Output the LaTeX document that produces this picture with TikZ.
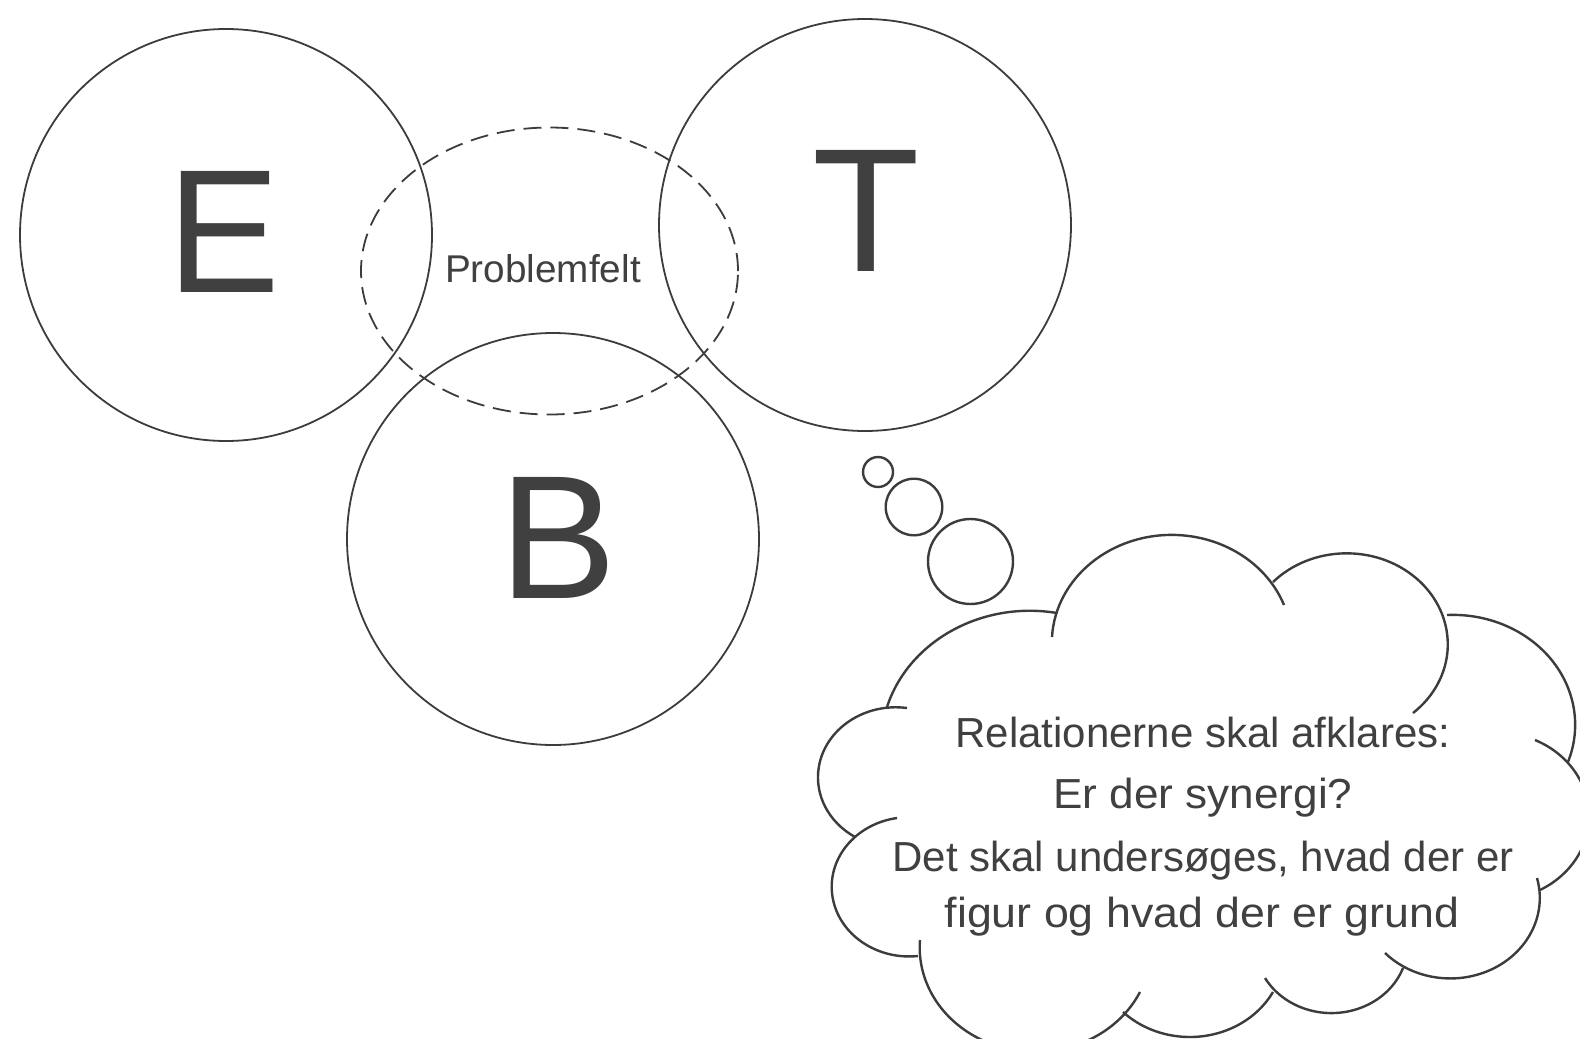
\documentclass[tikz,border=0pt]{standalone}
\usepackage{fontspec}
\setmainfont{Liberation Sans}
\usetikzlibrary{shapes.geometric}
\definecolor{ink}{HTML}{404040}
\definecolor{linec}{HTML}{3C3C3C}
% arc of an ellipse (ry = 0.9 rx) through three points given in pixels (y down)
\newcommand\cloudlobe[6]{%
  \pgfmathsetmacro\cbx{(#3-#1)/100}%
  \pgfmathsetmacro\cby{-(#4-#2)/90}%
  \pgfmathsetmacro\ccx{(#5-#1)/100}%
  \pgfmathsetmacro\ccy{-(#6-#2)/90}%
  \pgfmathsetmacro\cbb{\cbx*\cbx+\cby*\cby}%
  \pgfmathsetmacro\cccc{\ccx*\ccx+\ccy*\ccy}%
  \pgfmathsetmacro\cdd{2*(\cbx*\ccy-\cby*\ccx)}%
  \pgfmathsetmacro\cux{(\ccy*\cbb-\cby*\cccc)/\cdd}%
  \pgfmathsetmacro\cuy{(\cbx*\cccc-\ccx*\cbb)/\cdd}%
  \pgfmathsetmacro\crr{sqrt(\cux*\cux+\cuy*\cuy)}%
  \pgfmathsetmacro\cst{atan2(-\cuy,-\cux)}%
  \pgfmathsetmacro\cmid{atan2(\cby-\cuy,\cbx-\cux)}%
  \pgfmathsetmacro\cen{atan2(\ccy-\cuy,\ccx-\cux)}%
  \pgfmathsetmacro\cdo{mod(\cmid-\cst+720,360)}%
  \pgfmathsetmacro\cdt{mod(\cen-\cst+720,360)}%
  \pgfmathsetmacro\cdel{\cdo<\cdt ? \cdt : \cdt-360}%
  \pgfmathsetmacro\crx{\crr*50}%
  \pgfmathsetmacro\cry{\crr*45}%
  \draw[cloudline] (#1,-#2) arc[start angle=\cst, delta angle=\cdel, x radius=\crx pt, y radius=\cry pt];%
}
\begin{document}
\begin{tikzpicture}[x=0.5pt,y=0.5pt,
  ring/.style={circle, draw=linec, line width=0.9pt, minimum size=#1, inner sep=0pt},
  bubble/.style={circle, draw=linec, line width=1.2pt, minimum size=#1, inner sep=0pt},
  cloudline/.style={draw=linec, line width=1.2pt},
  letter/.style={text=ink, inner sep=0pt, anchor=base, font=\fontsize{88}{88}\selectfont},
  cloudtext/.style={text=ink, inner sep=0pt, anchor=base, font=\fontsize{21}{25}\selectfont}]
\path[use as bounding box] (0,0) rectangle (1580,-1039);
\clip (0,0) rectangle (1580,-1039);
\fill[white] (0,0) rectangle (1580,-1039);

% main circles
\node[ring=206pt] (cE) at (226,-235) {};
\node[ring=206pt] (cT) at (865,-225) {};
\node[ring=206pt] (cB) at (553,-539) {};
\node[ellipse, draw=linec, line width=0.9pt, dash pattern=on 9pt off 4.5pt,
      minimum width=188.5pt, minimum height=143.5pt, inner sep=0pt] (prob) at (549.5,-271) {};

% letters
\node[letter, xscale=0.96] (tE) at (223.5,-292) {E};
\node[letter] (tT) at (866,-271.4) {T};
\node[letter] (tB) at (557.7,-598.6) {B};
\node[text=ink, inner sep=0pt, anchor=base, font=\fontsize{19.35}{22}\selectfont] (tP) at (543,-282.7) {Problemfelt};

% thought bubbles
\node[bubble=15pt] (b1) at (878,-472) {};
\node[bubble=28.3pt] (b2) at (914,-507) {};
\node[bubble=42.5pt] (b3) at (970.5,-561.5) {};

% cloud lobes
\cloudlobe{907}{708}{818}{780}{855}{837}
\cloudlobe{887}{707}{937}{640}{1057}{613}
\cloudlobe{1052}{637}{1177}{535}{1284}{605}
\cloudlobe{1273}{582}{1400}{567}{1413}{713}
\cloudlobe{1447}{615}{1563}{677}{1568}{762}
\cloudlobe{1535}{740}{1580}{780}{1540}{890}
\cloudlobe{1537}{878}{1503}{963}{1385}{953}
\cloudlobe{1403}{968}{1328}{1013}{1265}{978}
\cloudlobe{1273}{992}{1190}{1037}{1123}{1012}
\cloudlobe{1140}{992}{980}{1039}{920}{940}
\cloudlobe{897}{818}{832}{893}{918}{956}

% cloud text
\node[cloudtext] (l1) at (1203,-747) {Relationerne skal afklares:};
\node[cloudtext, xscale=1.05] (l2) at (1203,-808) {Er der synergi?};
\node[cloudtext] (l3) at (1203,-871) {Det skal undersøges, hvad der er};
\node[cloudtext, xscale=1.065] (l4) at (1202,-927) {figur og hvad der er grund};
\end{tikzpicture}
\end{document}
